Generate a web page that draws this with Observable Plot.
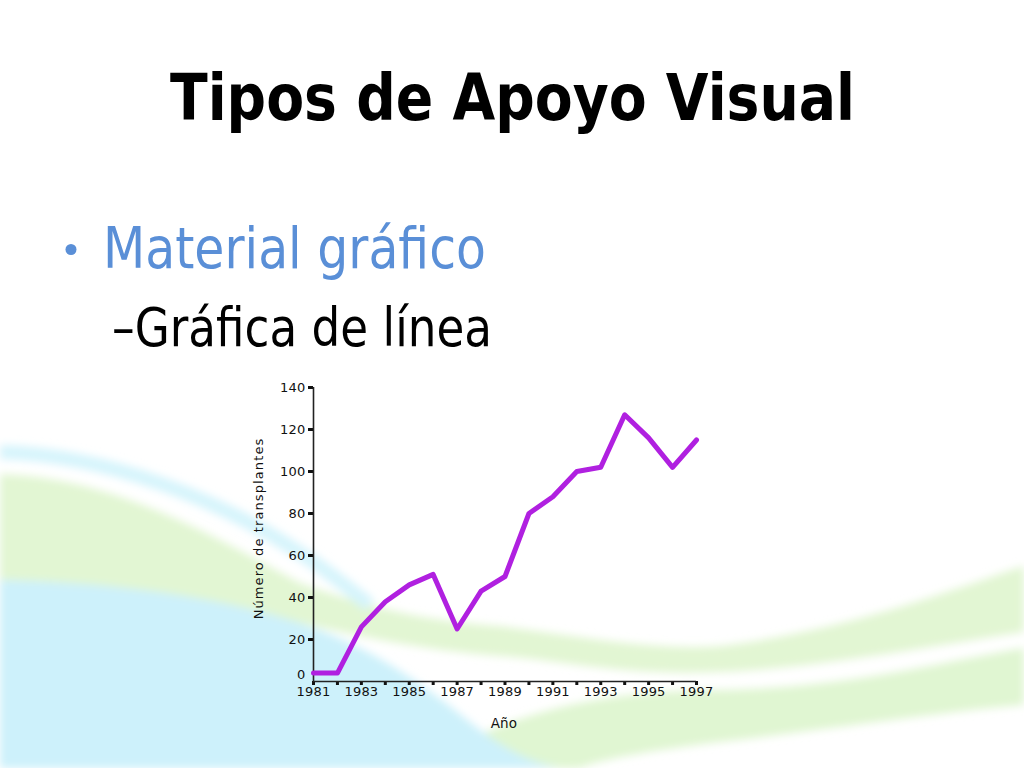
<!DOCTYPE html>
<html>
<head>
<meta charset="utf-8">
<script src="https://cdn.jsdelivr.net/npm/d3@7"></script>
<script src="https://cdn.jsdelivr.net/npm/@observablehq/plot@0.6"></script>
<style>
  html, body { margin: 0; padding: 0; background: #fff; }
  #page { position: relative; width: 1024px; height: 768px; overflow: hidden; background: #fff; }
  #bg, #txt { position: absolute; left: 0; top: 0; }
  #chart { position: absolute; left: 240px; top: 370px; }
</style>
</head>
<body>
<div id="page">
  <svg id="bg" width="1024" height="768" viewBox="0 0 1024 768">
    <defs>
      <filter id="blur" x="-10%" y="-10%" width="120%" height="120%"><feGaussianBlur stdDeviation="4"/></filter>
    </defs>
    <g filter="url(#blur)">
      <path d="M420,768 C520,700 640,690 720,690 C850,688 950,660 1024,648 L1024,705 C940,712 840,728 720,742 C640,752 600,760 580,768 Z" fill="#e0f6d2"/>
      <path d="M0,474 C120,478 220,540 300,583 C380,612 440,622 500,626 C600,640 660,650 720,646 C850,630 950,590 1024,566 L1024,632 C930,646 820,668 720,672 C620,676 560,660 500,656 C420,650 360,636 300,623 C200,600 100,582 0,580 Z" fill="#e2f6d3"/>
      <path d="M0,580 C120,582 230,600 300,623 C380,650 430,690 480,730 C510,752 530,762 560,768 L0,768 Z" fill="#cdf1fb"/>
      <path d="M0,452 C110,455 220,500 300,553 C330,572 350,590 370,605" fill="none" stroke="#d6f4fc" stroke-width="14"/>
    </g>
  </svg>
  <svg id="txt" width="1024" height="768" viewBox="0 0 1024 768">
    <text x="170" y="120" font-family="DejaVu Sans" font-weight="bold" font-size="64" fill="#000" textLength="685" lengthAdjust="spacingAndGlyphs">Tipos de Apoyo Visual</text>
    <circle cx="71" cy="249.5" r="5.5" fill="#5a8fd7"/>
    <text x="103" y="268" font-family="DejaVu Sans" font-size="57" fill="#5a8fd7" textLength="383" lengthAdjust="spacingAndGlyphs">Material gráfico</text>
    <text x="112" y="346" font-family="DejaVu Sans" font-size="54" fill="#000" textLength="380" lengthAdjust="spacingAndGlyphs">–Gráfica de línea</text>
  </svg>
  <div id="chart"></div>
</div>
<script>
const years = [1981,1982,1983,1984,1985,1986,1987,1988,1989,1990,1991,1992,1993,1994,1995,1996,1997];
const transplants = [4,4,26,38,46,51,25,43,50,80,88,100,102,127,116,102,115];
const yTicks = [0,20,40,60,80,100,120,140];
const xLabelYears = [1981,1983,1985,1987,1989,1991,1993,1995,1997];
const yLabel = "Número de transplantes";
const xLabel = "Año";

const data = years.map((year, i) => ({year, value: transplants[i]}));

const chart = Plot.plot({
  width: 480,
  height: 370,
  marginLeft: 73,
  marginTop: 17,
  marginRight: 24,
  marginBottom: 59,
  style: {background: "transparent", fontFamily: "DejaVu Sans", fontSize: "13px", color: "#111", overflow: "visible"},
  x: {domain: [1981, 1997]},
  y: {domain: [0, 140]},
  marks: [
    Plot.axisY(yTicks.filter(d => d > 0), {tickSize: 5, strokeWidth: 3, tickPadding: 3, label: null, tickFormat: d => String(d), fontSize: 13, fill: "#111"}),
    Plot.text(yTicks.filter(d => d === 0), {x: () => 1981, y: d => d, text: d => String(d), dx: -8, dy: -7, textAnchor: "end", fontSize: 13, fill: "#111"}),
    Plot.axisX(years, {tickSize: 4, strokeWidth: 3, tickPadding: 1, label: null, tickFormat: d => xLabelYears.includes(d) ? String(d) : "", fontSize: 13, fill: "#111"}),
    Plot.ruleX([1981], {stroke: "#222", strokeWidth: 1.6}),
    Plot.ruleY([0], {stroke: "#222", strokeWidth: 1.6}),
    Plot.line(data, {x: "year", y: "value", stroke: "#b020e0", strokeWidth: 5}),
    Plot.text([yLabel], {frameAnchor: "left", textAnchor: "middle", dx: -55, dy: -6, rotate: -90, fontSize: 13, fill: "#111"}),
    Plot.text([xLabel], {frameAnchor: "bottom", textAnchor: "middle", dx: -1, dy: 46, fontSize: 13.5, fill: "#111"})
  ]
});
document.getElementById("chart").appendChild(chart);
d3.select(chart).selectAll("text").style("letter-spacing", "0.2px");
d3.select(chart).selectAll("text").filter(function() { return this.textContent === yLabel; }).style("letter-spacing", "1.1px");
</script>
</body>
</html>
